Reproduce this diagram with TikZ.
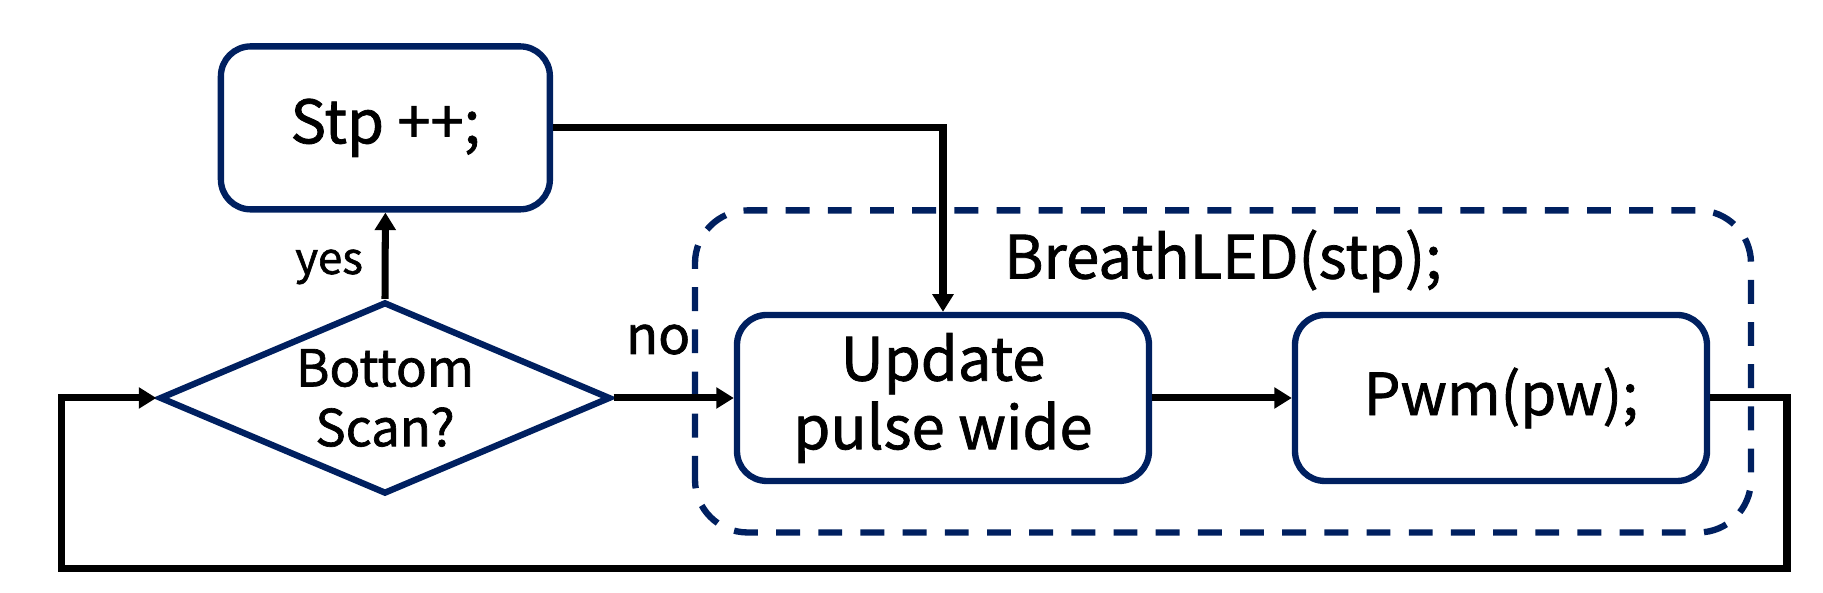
\documentclass[tikz,border=0pt]{standalone}
\usepackage{fontspec}
\setmainfont{Noto Sans CJK SC}[FakeBold=1.3]
\usepackage{tikz}
\usetikzlibrary{arrows.meta}
\usetikzlibrary{shapes.geometric}
\definecolor{navy}{HTML}{002060}
\tikzstyle{stepbox} = [draw=navy, line width=1.8pt, rounded corners=8.5pt,
   minimum width=4.12cm, minimum height=1.66cm, align=center,
   font=\fontsize{17}{19.5}\selectfont]
\tikzstyle{decision} = [draw=navy, line width=1.8pt, diamond, aspect=2.35,
   minimum width=4.51cm, minimum height=1.92cm, inner sep=0pt]
\tikzstyle{group} = [draw=navy, line width=1.8pt, dash pattern=on 6.8pt off 5.2pt,
   rounded corners=15pt]
\tikzstyle{flow} = [line width=2pt, -{Triangle[length=5pt,width=5.8pt]}]

\begin{document}
\begin{tikzpicture}
  \useasboundingbox (0,0) rectangle (18.23,5.93);
  % the breathing block
  \draw [group] (6.95,0.605) rectangle (17.51,3.826);
  \node (breath) at (12.23,3.32) {\fontsize{17}{20}\selectfont BreathLED(stp);};
  \node [stepbox, minimum width=3.29cm, minimum height=1.63cm] (stp) at (3.854,4.651) {Stp ++;};
  \node [decision, label={[align=center, font=\fontsize{14.5}{17}\selectfont]center:Bottom\\Scan?}] (scan) at (3.85,1.95) {};
  \node [stepbox] (update) at (9.43,1.95) {Update\\pulse wide};
  \node [stepbox, font=\fontsize{16.5}{19}\selectfont] (pwm) at (15.01,1.95) {Pwm(pw);};
  \coordinate (loopr) at (17.87,0.245);
  \coordinate (loopl) at (0.616,0.245);
  \draw [flow] (scan.north) -- node [pos=0.37, left=2pt, font=\fontsize{12.5}{15}\selectfont] {yes} (stp.south);
  \draw [flow] (scan.east) -- node [pos=0.37, above=8pt, font=\fontsize{15}{18}\selectfont] {no} (update.west);
  \draw [flow] (stp.east) -| (update.north);
  \draw [flow] (update.east) -- (pwm.west);
  \draw [flow] (pwm.east) -| (loopr) -- (loopl) |- (scan.west);
\end{tikzpicture}
\end{document}
